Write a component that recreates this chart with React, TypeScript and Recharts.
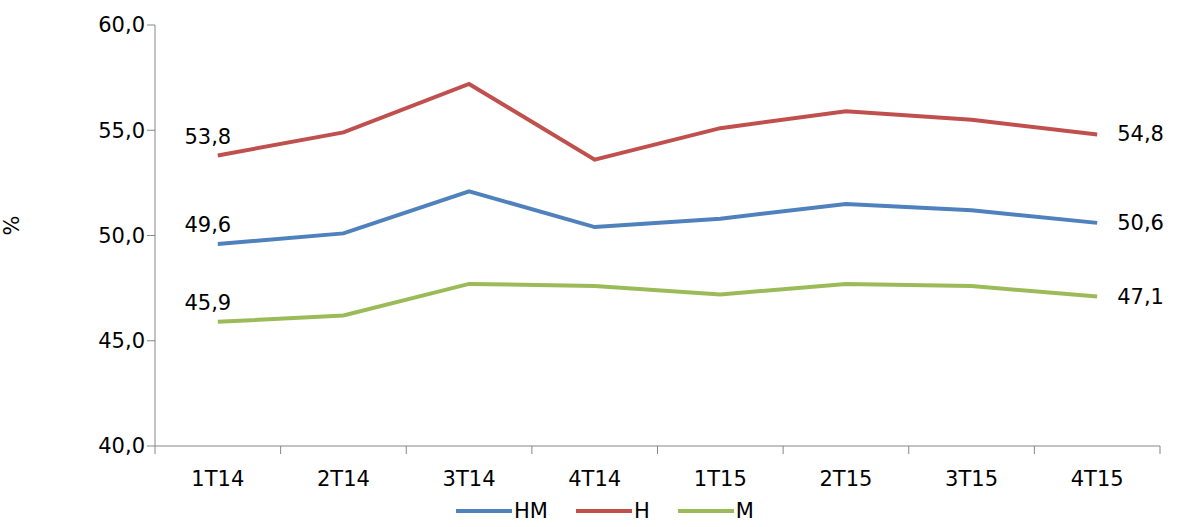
import { LineChart, Line, XAxis, YAxis, Legend, LabelList } from 'recharts';

const quarters = ['1T14', '2T14', '3T14', '4T14', '1T15', '2T15', '3T15', '4T15'];
const hm = [49.6, 50.1, 52.1, 50.4, 50.8, 51.5, 51.2, 50.6];
const h = [53.8, 54.9, 57.2, 53.6, 55.1, 55.9, 55.5, 54.8];
const m = [45.9, 46.2, 47.7, 47.6, 47.2, 47.7, 47.6, 47.1];
const yTicks = [40, 45, 50, 55, 60];
const boundaryTicks = [0, 1, 2, 3, 4, 5, 6, 7, 8];
const centerTicks = quarters.map((_, i) => i + 0.5);

const data = quarters.map((q, i) => ({ q, idx: i + 0.5, HM: hm[i], H: h[i], M: m[i] }));

const series = [
  { key: 'HM', color: '#4F81BD' },
  { key: 'H', color: '#C0504D' },
  { key: 'M', color: '#9BBB59' },
];

const fmt = (v: number) => v.toFixed(1).replace('.', ',');
const font = 'Tahoma, "DejaVu Sans", sans-serif';

const EndLabel = (props: any) => {
  const { x, y, value, index } = props;
  if (index === 0) {
    return (
      <text x={x - 10} y={y - 12} textAnchor="middle" fontSize={21} fill="#000" fontFamily={font}>
        {fmt(value)}
      </text>
    );
  }
  if (index === quarters.length - 1) {
    return (
      <text x={x + 20} y={y + 7} textAnchor="start" fontSize={21} fill="#000" fontFamily={font}>
        {fmt(value)}
      </text>
    );
  }
  return null;
};

const LegendContent = () => (
  <div style={{ display: 'flex', justifyContent: 'center', gap: 28, fontFamily: font, fontSize: 21, marginLeft: 50 }}>
    {series.map((s) => (
      <div key={s.key} style={{ display: 'flex', alignItems: 'center' }}>
        <div style={{ width: 56, height: 4, background: s.color, marginRight: 2 }} />
        <span>{s.key}</span>
      </div>
    ))}
  </div>
);

export default function App() {
  return (
    <div style={{ position: 'absolute', left: 0, top: 0, width: 1180, height: 527, background: '#fff' }}>
      <LineChart width={1180} height={527} data={data} margin={{ top: 25, right: 20, bottom: 0, left: 0 }}>
        <XAxis
          xAxisId="axis"
          dataKey="idx"
          type="number"
          domain={[0, 8]}
          ticks={boundaryTicks}
          tickFormatter={() => ''}
          tick={{ fontSize: 1 }}
          stroke="#868686"
          tickSize={8}
          height={1}
        />
        <XAxis
          xAxisId="labels"
          dataKey="idx"
          type="number"
          domain={[0, 8]}
          ticks={centerTicks}
          tickFormatter={(v: number) => quarters[Math.floor(v)]}
          axisLine={false}
          tickLine={false}
          tick={{ fontSize: 21, fill: '#000', fontFamily: font }}
          tickMargin={18}
          height={52}
        />
        <YAxis
          domain={[40, 60]}
          ticks={yTicks}
          tickFormatter={fmt}
          width={155}
          stroke="#868686"
          tickSize={8}
          tick={{ fontSize: 21, fill: '#000', fontFamily: font }}
          label={{ value: '%', angle: -90, position: 'insideLeft', offset: 12, fontSize: 21, fill: '#000', fontFamily: font }}
        />
        <Legend verticalAlign="bottom" height={28} content={<LegendContent />} />
        {series.map((s) => (
          <Line
            key={s.key}
            xAxisId="axis"
            dataKey={s.key}
            stroke={s.color}
            strokeWidth={4}
            dot={false}
            isAnimationActive={false}
          >
            <LabelList dataKey={s.key} content={<EndLabel />} />
          </Line>
        ))}
      </LineChart>
    </div>
  );
}
